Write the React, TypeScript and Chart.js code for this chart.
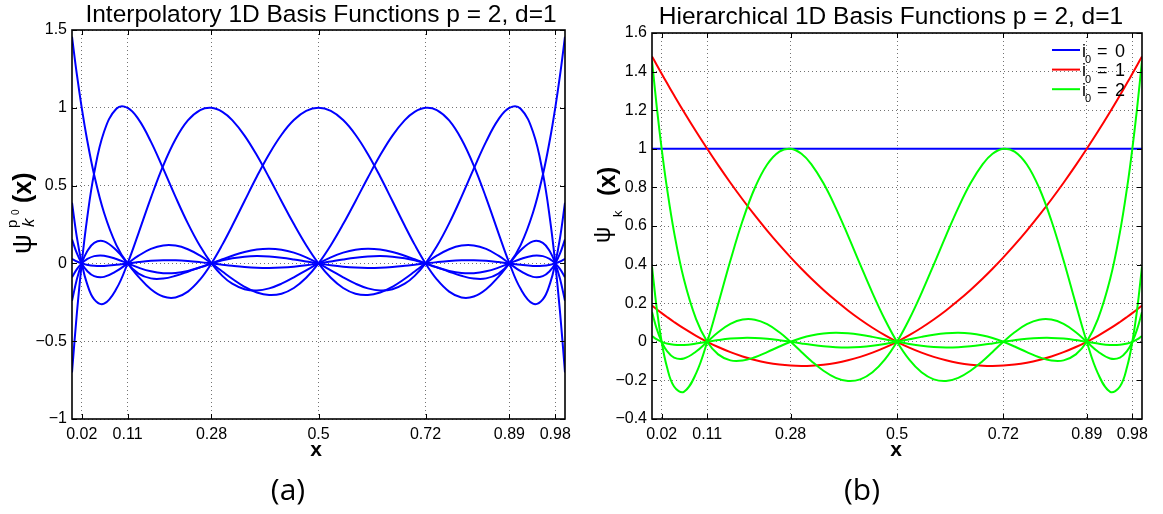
import React, { useEffect, useRef } from 'react';
import { Chart, registerables } from 'chart.js';

Chart.register(...registerables);

// ---------- data ----------
const X_SAMPLES = [0, 0.01, 0.01975, 0.03, 0.045, 0.065, 0.09, 0.1127, 0.135, 0.16, 0.185, 0.21, 0.235, 0.26, 0.2829, 0.305, 0.325, 0.35, 0.375, 0.4, 0.425, 0.45, 0.475, 0.5, 0.525, 0.55, 0.575, 0.6, 0.625, 0.65, 0.675, 0.695, 0.7171, 0.74, 0.765, 0.79, 0.815, 0.84, 0.865, 0.8873, 0.91, 0.935, 0.955, 0.97, 0.98025, 0.99, 1];

// interpolatory basis, one per node
const PSI_002 = [1.4568, 1.2110, 1, 0.8062, 0.5685, 0.3251, 0.1171, 0, -0.0653, -0.0962, -0.0971, -0.0797, -0.0533, -0.0245, 0, 0.0197, 0.0331, 0.0435, 0.0469, 0.0442, 0.0366, 0.0256, 0.0129, 0, -0.0116, -0.0208, -0.0267, -0.0290, -0.0276, -0.0228, -0.0154, -0.0083, 0, 0.0082, 0.0154, 0.0197, 0.0202, 0.0165, 0.0089, 0, -0.0092, -0.0161, -0.0153, -0.0087, 0, 0.0122, 0.0294];
const PSI_011 = [-0.7004, -0.3155, 0, 0.2739, 0.5814, 0.8458, 0.9938, 1, 0.9254, 0.7826, 0.6085, 0.4275, 0.2572, 0.1095, 0, -0.0801, -0.1306, -0.1661, -0.1744, -0.1605, -0.1302, -0.0895, -0.0443, 0, 0.0389, 0.0690, 0.0879, 0.0946, 0.0893, 0.0734, 0.0493, 0.0265, 0, -0.0257, -0.0482, -0.0614, -0.0626, -0.0509, -0.0274, 0, 0.0283, 0.0491, 0.0467, 0.0264, 0, -0.0369, -0.0890];
const PSI_028 = [0.3902, 0.1660, 0, -0.1253, -0.2314, -0.2589, -0.1635, 0, 0.1951, 0.4212, 0.6285, 0.7981, 0.9188, 0.9857, 1, 0.9740, 0.9207, 0.8212, 0.6943, 0.5505, 0.4000, 0.2526, 0.1169, 0, -0.0927, -0.1580, -0.1946, -0.2033, -0.1870, -0.1501, -0.0989, -0.0523, 0, 0.0493, 0.0912, 0.1147, 0.1156, 0.0929, 0.0496, 0, -0.0503, -0.0865, -0.0819, -0.0461, 0, 0.0641, 0.1539];
const PSI_050 = [-0.2409, -0.1009, 0, 0.0735, 0.1320, 0.1415, 0.0839, 0, -0.0863, -0.1661, -0.2131, -0.2188, -0.1811, -0.1025, 0, 0.1206, 0.2418, 0.4010, 0.5583, 0.7035, 0.8270, 0.9211, 0.9800, 1, 0.9800, 0.9211, 0.8270, 0.7035, 0.5583, 0.4010, 0.2418, 0.1206, 0, -0.1025, -0.1811, -0.2188, -0.2131, -0.1661, -0.0863, 0, 0.0839, 0.1415, 0.1320, 0.0735, 0, -0.1009, -0.2409];
const PSI_072 = [0.1539, 0.0641, 0, -0.0461, -0.0819, -0.0865, -0.0503, 0, 0.0496, 0.0929, 0.1156, 0.1147, 0.0912, 0.0493, 0, -0.0523, -0.0989, -0.1501, -0.1870, -0.2033, -0.1946, -0.1580, -0.0927, 0, 0.1169, 0.2526, 0.4000, 0.5505, 0.6943, 0.8212, 0.9207, 0.9740, 1, 0.9857, 0.9188, 0.7981, 0.6285, 0.4212, 0.1951, 0, -0.1635, -0.2589, -0.2314, -0.1253, 0, 0.1660, 0.3902];
const PSI_089 = [-0.0890, -0.0369, 0, 0.0264, 0.0467, 0.0491, 0.0283, 0, -0.0274, -0.0509, -0.0626, -0.0614, -0.0482, -0.0257, 0, 0.0265, 0.0493, 0.0734, 0.0893, 0.0946, 0.0879, 0.0690, 0.0389, 0, -0.0443, -0.0895, -0.1302, -0.1605, -0.1744, -0.1661, -0.1306, -0.0801, 0, 0.1095, 0.2572, 0.4275, 0.6085, 0.7826, 0.9254, 1, 0.9938, 0.8458, 0.5814, 0.2739, 0, -0.3155, -0.7004];
const PSI_098 = [0.0294, 0.0122, 0, -0.0087, -0.0153, -0.0161, -0.0092, 0, 0.0089, 0.0165, 0.0202, 0.0197, 0.0154, 0.0082, 0, -0.0083, -0.0154, -0.0228, -0.0276, -0.0290, -0.0267, -0.0208, -0.0116, 0, 0.0129, 0.0256, 0.0366, 0.0442, 0.0469, 0.0435, 0.0331, 0.0197, 0, -0.0245, -0.0533, -0.0797, -0.0971, -0.0962, -0.0653, 0, 0.1171, 0.3251, 0.5685, 0.8062, 1, 1.2110, 1.4568];

// hierarchical basis
const LEVEL0_X = [0, 1];
const LEVEL0_Y = [1, 1];
const LEVEL1_A = [1.4788, 1.4329, 1.3888, 1.3431, 1.2775, 1.1923, 1.0896, 1, 0.9153, 0.8243, 0.7374, 0.6547, 0.5762, 0.5018, 0.4374, 0.3785, 0.3280, 0.2686, 0.2135, 0.1624, 0.1156, 0.0729, 0.0344, 0, -0.0302, -0.0562, -0.0781, -0.0958, -0.1093, -0.1186, -0.1238, -0.1250, -0.1232, -0.1178, -0.1080, -0.0941, -0.0759, -0.0536, -0.0271, 0, 0.0310, 0.0692, 0.1027, 0.1296, 0.1488, 0.1677, 0.1878];
const LEVEL1_B = [0.1878, 0.1677, 0.1488, 0.1296, 0.1027, 0.0692, 0.0310, 0, -0.0271, -0.0536, -0.0759, -0.0941, -0.1080, -0.1178, -0.1232, -0.1250, -0.1238, -0.1186, -0.1093, -0.0958, -0.0781, -0.0562, -0.0302, 0, 0.0344, 0.0729, 0.1156, 0.1624, 0.2135, 0.2686, 0.3280, 0.3785, 0.4374, 0.5018, 0.5762, 0.6547, 0.7374, 0.8243, 0.9153, 1, 1.0896, 1.1923, 1.2775, 1.3431, 1.3888, 1.4329, 1.4788];

// ticks
const X_TICKS = [0.0198, 0.1127, 0.2829, 0.5, 0.7171, 0.8873, 0.9802];
const X_TICK_LABELS = ['0.02', '0.11', '0.28', '0.5', '0.72', '0.89', '0.98'];
const Y_TICKS_A = [-1, -0.5, 0, 0.5, 1, 1.5];
const Y_TICK_LABELS_A = ['\u22121', '\u22120.5', '0', '0.5', '1', '1.5'];
const Y_TICKS_B = [-0.4, -0.2, 0, 0.2, 0.4, 0.6, 0.8, 1, 1.2, 1.4, 1.6];
const Y_TICK_LABELS_B = ['\u22120.4', '\u22120.2', '0', '0.2', '0.4', '0.6', '0.8', '1', '1.2', '1.4', '1.6'];

const LEGEND_LABELS = ['0', '1', '2'];
const BLUE = '#0000ff';
const RED = '#ff0000';
const GREEN = '#00ff00';
const FONT = '"Liberation Sans", Arial, Helvetica, sans-serif';

const pts = (xs: number[], ys: number[]) => xs.map((x, i) => ({ x, y: ys[i] }));

function lineDs(data: number[], color: string, order: number, xs = X_SAMPLES) {
  return {
    data: pts(xs, data),
    borderColor: color,
    backgroundColor: color,
    borderWidth: 2,
    pointRadius: 0,
    fill: false,
    tension: 0.4,
    order,
  };
}

function makeScales(yMin: number, yMax: number, yTicks: number[], yLabels: string[], yWidth: number) {
  return {
    x: {
      type: 'linear' as const,
      min: 0,
      max: 1,
      afterBuildTicks: (s: any) => { s.ticks = X_TICKS.map((v) => ({ value: v })); },
      afterFit: (s: any) => { s.height = 60; },
      ticks: {
        autoSkip: false,
        maxRotation: 0,
        padding: 6,
        color: '#000',
        font: { family: FONT, size: 16 },
        callback: (_v: any, i: number) => X_TICK_LABELS[i],
      },
      grid: { color: 'rgba(0,0,0,0.55)', lineWidth: 1, drawTicks: false },
      border: { display: false, dash: [1, 3] },
    },
    y: {
      type: 'linear' as const,
      min: yMin,
      max: yMax,
      afterBuildTicks: (s: any) => { s.ticks = yTicks.map((v) => ({ value: v })); },
      afterFit: (s: any) => { s.width = yWidth; },
      ticks: {
        autoSkip: false,
        padding: 5,
        color: '#000',
        font: { family: FONT, size: 16 },
        callback: (_v: any, i: number) => yLabels[i],
      },
      grid: { color: 'rgba(0,0,0,0.55)', lineWidth: 1, drawTicks: false },
      border: { display: false, dash: [1, 3] },
    },
  };
}

function text(ctx: CanvasRenderingContext2D, s: string, x: number, y: number, font: string, align: CanvasTextAlign = 'left') {
  ctx.font = font;
  ctx.textAlign = align;
  ctx.textBaseline = 'alphabetic';
  ctx.fillStyle = '#000';
  ctx.fillText(s, x, y);
}

function framePlugin(yTicks: number[]) {
  return {
    id: 'frame',
    afterDraw(chart: any) {
      const { ctx, chartArea: a, scales } = chart;
      ctx.save();
      ctx.strokeStyle = '#000';
      ctx.lineWidth = 1;
      ctx.beginPath();
      for (const v of X_TICKS) {
        const px = Math.round(scales.x.getPixelForValue(v)) + 0.5;
        ctx.moveTo(px, a.bottom); ctx.lineTo(px, a.bottom - 5);
        ctx.moveTo(px, a.top); ctx.lineTo(px, a.top + 5);
      }
      for (const v of yTicks) {
        const py = Math.round(scales.y.getPixelForValue(v)) + 0.5;
        ctx.moveTo(a.left, py); ctx.lineTo(a.left + 5, py);
        ctx.moveTo(a.right, py); ctx.lineTo(a.right - 5, py);
      }
      ctx.stroke();
      ctx.lineWidth = 1.6;
      ctx.strokeRect(a.left, a.top, a.right - a.left, a.bottom - a.top);
      ctx.restore();
    },
  };
}

const labelsA = {
  id: 'labelsA',
  afterDraw(chart: any) {
    const ctx = chart.ctx as CanvasRenderingContext2D;
    ctx.save();
    text(ctx, 'Interpolatory 1D Basis Functions p = 2, d=1', 321, 22, `24.5px ${FONT}`, 'center');
    text(ctx, 'x', 316, 456, `bold 21px ${FONT}`, 'center');
    text(ctx, '(a)', 288, 500, '30px "Open Sans", sans-serif', 'center');
    ctx.translate(31, 254);
    ctx.rotate(-Math.PI / 2);
    text(ctx, '\u03c8', 0, 0, `28px ${FONT}`);
    text(ctx, 'p', 26, -14, `15px ${FONT}`);
    text(ctx, 'k', 27, 3, `italic 17px ${FONT}`);
    text(ctx, '0', 39, -12, `10px ${FONT}`);
    text(ctx, '(x)', 51, 0, `bold 25px ${FONT}`);
    ctx.restore();
  },
};

const OX = 585;
const labelsB = {
  id: 'labelsB',
  afterDraw(chart: any) {
    const ctx = chart.ctx as CanvasRenderingContext2D;
    ctx.save();
    text(ctx, 'Hierarchical 1D Basis Functions p = 2, d=1', 891 - OX, 24, `24.5px ${FONT}`, 'center');
    text(ctx, 'x', 896 - OX, 456, `bold 21px ${FONT}`, 'center');
    text(ctx, '(b)', 862 - OX, 500, '30px "Open Sans", sans-serif', 'center');
    // legend
    const colors = [BLUE, RED, GREEN];
    LEGEND_LABELS.forEach((lab, i) => {
      const ly = 50 + i * 19.6;
      ctx.strokeStyle = colors[i];
      ctx.lineWidth = 2;
      ctx.beginPath();
      ctx.moveTo(1052 - OX, ly);
      ctx.lineTo(1080 - OX, ly);
      ctx.stroke();
      text(ctx, 'i', 1082 - OX, ly + 6.5, `18px ${FONT}`);
      text(ctx, '0', 1085 - OX, ly + 13, `11px ${FONT}`);
      text(ctx, '=', 1097 - OX, ly + 6.5, `18px ${FONT}`);
      text(ctx, lab, 1115 - OX, ly + 6.5, `18px ${FONT}`);
    });
    // y label
    ctx.translate(612 - OX, 243);
    ctx.rotate(-Math.PI / 2);
    text(ctx, '\u03c8', 0, -2, `23px ${FONT}`);
    text(ctx, 'k', 26, 10, `13px ${FONT}`);
    text(ctx, '(x)', 47, 3, `bold 24px ${FONT}`);
    ctx.restore();
  },
};

export default function App() {
  const refA = useRef<HTMLCanvasElement>(null);
  const refB = useRef<HTMLCanvasElement>(null);

  useEffect(() => {
    const chartA = new Chart(refA.current!, {
      type: 'line',
      data: {
        datasets: [
          lineDs(PSI_002, BLUE, 1),
          lineDs(PSI_011, BLUE, 1),
          lineDs(PSI_028, BLUE, 1),
          lineDs(PSI_050, BLUE, 1),
          lineDs(PSI_072, BLUE, 1),
          lineDs(PSI_089, BLUE, 1),
          lineDs(PSI_098, BLUE, 1),
        ],
      },
      options: {
        animation: false,
        responsive: true,
        maintainAspectRatio: false,
        layout: { padding: { left: 0, right: 20, top: 30, bottom: 35 } },
        plugins: { legend: { display: false }, tooltip: { enabled: false }, title: { display: false } },
        scales: makeScales(-1, 1.5, Y_TICKS_A, Y_TICK_LABELS_A, 72) as any,
      },
      plugins: [framePlugin(Y_TICKS_A), labelsA],
    });

    const chartB = new Chart(refB.current!, {
      type: 'line',
      data: {
        datasets: [
          lineDs(LEVEL0_Y, BLUE, 3, LEVEL0_X),
          lineDs(LEVEL1_A, RED, 2),
          lineDs(LEVEL1_B, RED, 2),
          lineDs(PSI_002, GREEN, 1),
          lineDs(PSI_028, GREEN, 1),
          lineDs(PSI_072, GREEN, 1),
          lineDs(PSI_098, GREEN, 1),
        ],
      },
      options: {
        animation: false,
        responsive: true,
        maintainAspectRatio: false,
        layout: { padding: { left: 0, right: 21, top: 33, bottom: 35 } },
        plugins: { legend: { display: false }, tooltip: { enabled: false }, title: { display: false } },
        scales: makeScales(-0.4, 1.6, Y_TICKS_B, Y_TICK_LABELS_B, 67) as any,
      },
      plugins: [framePlugin(Y_TICKS_B), labelsB],
    });

    return () => {
      chartA.destroy();
      chartB.destroy();
    };
  }, []);

  return (
    <div style={{ position: 'absolute', left: 0, top: 0, width: 1163, height: 514, background: '#fff' }}>
      <div style={{ position: 'absolute', left: 0, top: 0, width: OX, height: 514 }}>
        <canvas ref={refA} />
      </div>
      <div style={{ position: 'absolute', left: OX, top: 0, width: 1163 - OX, height: 514 }}>
        <canvas ref={refB} />
      </div>
    </div>
  );
}
